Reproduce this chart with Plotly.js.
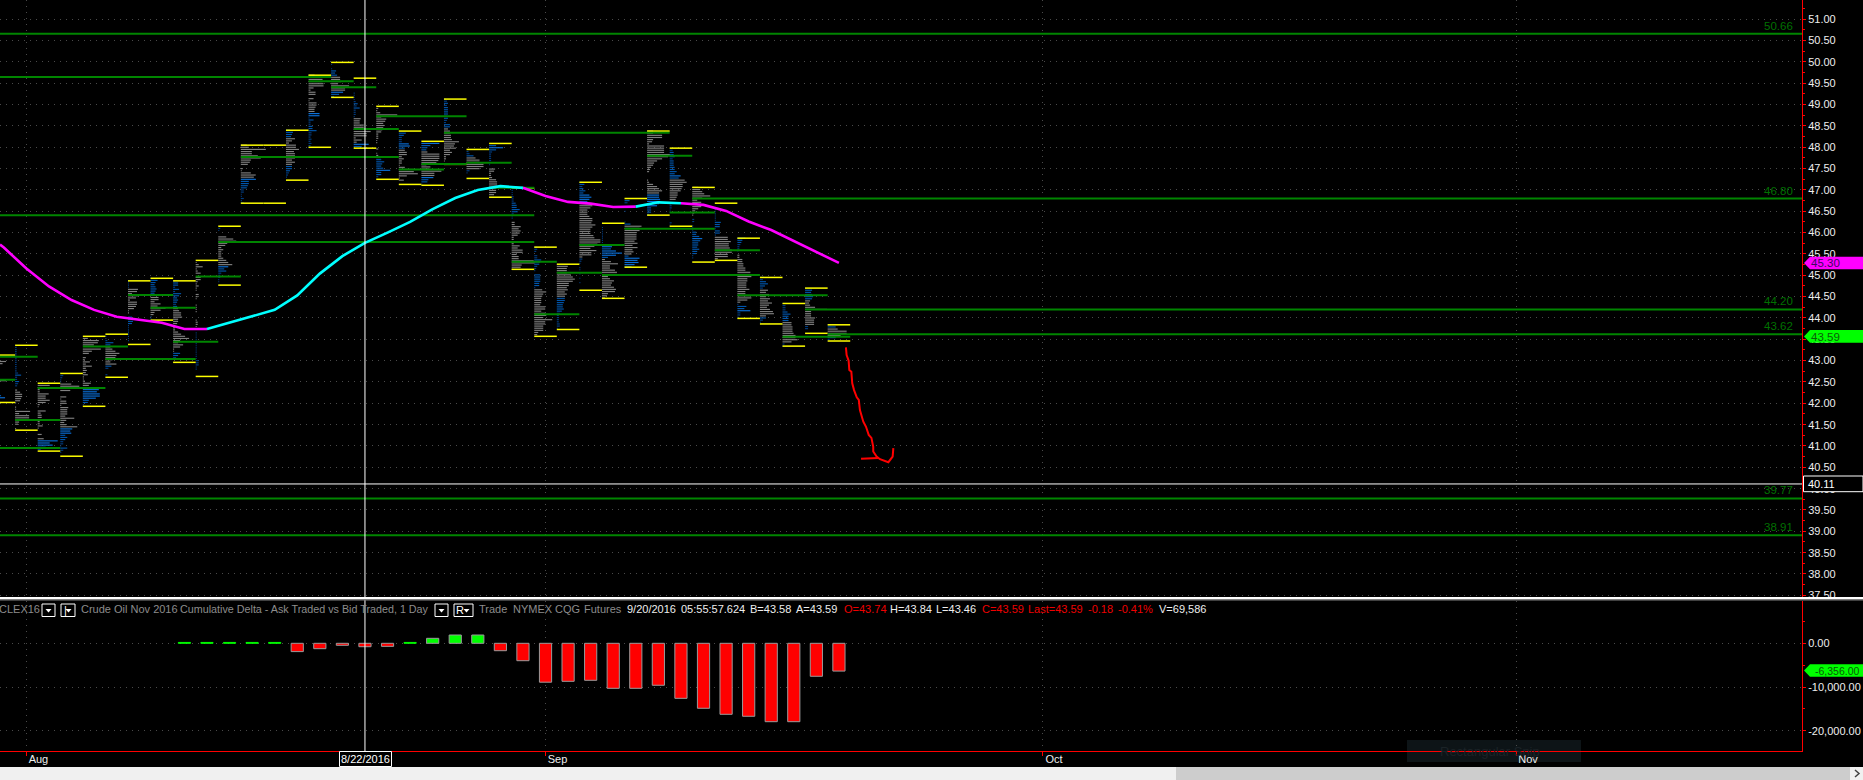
<!DOCTYPE html>
<html>
<head>
<meta charset="utf-8">
<script src="https://cdn.plot.ly/plotly-3.0.1.min.js"></script>
<style>html,body{margin:0;padding:0;background:#000;overflow:hidden}#chart{width:1863px;height:780px}</style>
</head>
<body>
<div id="chart"></div>
<script>
// ---- price bars: index -1 ... 36 (Aug 1 2016 = 0, Sep 1 = 23, Sep 20 = 36) ----
const barIndex = [-1,0,1,2,3,4,5,6,7,8,9,10,11,12,13,14,15,16,17,18,19,20,21,22,23,24,25,26,27,28,29,30,31,32,33,34,35,36];
const highs = [43.13,43.36,42.47,42.70,43.57,43.62,44.87,44.93,44.87,45.35,46.15,48.05,48.05,48.40,49.69,49.99,49.62,48.96,48.38,48.14,49.13,47.95,48.09,47.04,45.66,45.26,47.18,46.22,46.80,48.38,47.98,47.06,46.69,45.87,44.95,44.34,44.70,43.84];
const lows  = [42.02,41.37,40.88,40.76,41.93,42.61,43.38,43.95,42.96,42.63,44.77,46.69,46.69,47.23,48.00,49.17,47.98,47.25,47.13,47.11,47.60,47.27,46.83,45.14,43.57,43.73,44.65,44.46,45.19,46.41,46.15,45.31,45.35,43.99,43.86,43.34,43.64,43.46];
// volume-at-price rows, top to bottom, one row per 0.05; negative = blue rows
const profileRows = [
 [5,5,5,13.5,10,5,4,3,3,3,3,3,13.5,3,3,3,3,3,3,-8.5,-12.5,-2,0],
 [0,-1.5,-1.5,-1.5,-1.5,-1.5,-1.5,-1.5,-1.5,-1.5,-1.5,-1.5,-1.5,-3,-6,-2,-2,-4,-3,-2,0,2,5,7,7,6,5,1,0,1,1,15,4,14,14,13,4,3,0,1],
 [0,12,4,2,2,11,8,8,12,8,2,1,0,8,3,4,4,4,2,2,5,1,0,0,4,0,6,-20,-12,-15,-8,-3,0],
 [-1,-3,-2,-1,-1,11,19,16,10,0,0,6,1,6,6,1,8,7,7,7,5,14,6,4,6,17,-12,-10,-11,-5,-7,-5,-3,-3,-1,-7,-3,-1,0],
 [0,5,16,15,11,0,18,9,6,0,3,2,7,3,9,3,4,3,5,1,1,2,8,6,4,-16,-14,-17,-17,-13,-6,-5,-1],
 [0,-1,-1,-2,-8,-5,5,7,10,14,11,10,7,5,11,-6,-3,0,0,-2,0],
 [-1,-1,-1,-1,10,9,4,11,8,2,9,9,8,6,1,1,0,-4,-5,-5,-4,-1,-1,-1,-1,-1,-1,-1,-1,0],
 [-1,-7,-5,-4,-5,-6,-5,-4,12,8,8,4,10,7,15,10,4,3,-1,-1],
 [-2,-5,-5,-2,-6,-2,-8,-6,-4,-5,-4,-3,-4,5,6,8,8,9,5,5,4,1,2,2,5,8,12,16,7,5,10,7,1,1,-7,-5,-3,0],
 [0,1,3,7,1,2,5,0,5,5,2,1,3,1,1,0,3,2,1,0,0,1,1,1,1,0,0,0,1,2,2,1,0,0,-1,-1,-1,-1,-1,-1,-1,-1,-1,-1,-1,-1,-1,-3,-3,-3,-1,-1,0,0,0],
 [0,-2,-1,0,0,8,15,18,9,7,3,5,3,3,3,5,8,10,14,-10,-6,-8,-3,-2,-2,-1,-1,0],
 [6,8,25,11,11,17,20,10,9,7,0,2,1,10,15,13,-15,-8,-8,-7,-6,-3,-3,-1,-1,-3,-1,-3],
 [],
 [-4,-7,-6,-5,9,6,3,10,10,13,8,9,9,9,6,9,6,-6,-6,-4,-3,-2,-1,0],
 [6,6,14,14,15,15,5,2,7,7,0,5,1,8,8,7,6,6,-11,-11,-1,-5,-2,-2,-4,-4,-8,-3,-3,-2,-3,-2,-3,-2,-1],
 [0,-1,0,-1,-5,-4,-6,9,9,10,7,18,14,14,-12,-8,-3],
 [0,0,0,0,0,0,0,-1,-1,-1,-1,-2,-4,-3,-6,-2,-2,-2,-1,7,6,6,10,10,20,17,13,13,2,8,3,-15,-8],
 [0,2,1,4,21,5,10,9,7,8,7,6,5,2,2,2,1,1,0,0,2,0,1,2,5,-5,-8,-6,-5,-7,-14,-5,-5,-2,0],
 [0,-7,-5,-3,-3,-3,-10,-11,-6,6,8,8,3,5,3,3,1,6,15,15,19,8,1,5,0,0],
 [0,-18,-9,-6,-5,6,18,18,18,17,15,5,9,8,20,13,13,-12,-7,-6,-1],
 [-2,-3,-4,-3,-4,-4,-4,-4,-3,-4,-3,-2,-6,-6,4,6,6,7,7,8,15,11,10,12,6,8,6,2,2,1,0],
 [0,-2,-3,-7,9,13,13,17,17,13,-3,-1,0,0],
 [0,-7,-14,-7,-3,-2,-2,-2,-2,-1,-1,0,6,5,2,2,3,7,8,8,8,7,7,7,5,0],
 [0,-1,-1,-1,-2,-2,-2,-4,-5,-5,-8,-6,-2,-1,-1,0,3,3,9,7,9,8,6,2,2,5,2,8,6,11,11,5,7,7,22,23,10,9,1],
 [-3,-3,-2,0,-3,-3,-7,-6,-5,-3,-2,-1,0,-6,-6,-6,-6,-5,-5,-1,8,12,9,8,7,7,7,6,11,11,7,11,12,9,18,11,11,9,9,9,4,3],
 [-1,11,10,10,10,14,16,18,16,12,12,10,11,8,10,8,-8,-8,-7,-6,-6,-7,-5,-3,-2,-2,-2,-2,-3,-3,-1],
 [-3,-5,-3,-4,-6,-4,-10,-12,-10,-8,13,13,11,8,8,8,10,13,13,12,16,13,11,11,11,14,15,21,21,18,15,11,17,12,12,3,-3,-2,-1,0,-1,-1,0,-1,0,-1,0,-1,0,0,0],
 [-1,0,-1,-1,-1,-1,-1,-1,-1,-1,-5,-10,-9,-14,-20,-14,-6,3,9,16,8,8,13,15,15,6,8,12,10,9,12,14,13,6,5,3],
 [0,-5,-3,0,-1,0,-1,0,0,0,0,-1,-6,17,15,15,12,12,12,12,10,13,8,13,8,9,7,-4,-15,-13,-14,-10,-7],
 [6,6,15,15,6,5,2,17,17,17,17,23,21,15,10,7,6,4,3,2,0,0,0,1,2,6,10,12,15,12,-12,-12,-13,-13,-12,-10,-4,-4,-4,-2],
 [0,-3,-4,-4,-5,-3,-4,-4,-4,-5,-5,-7,-5,-11,-9,15,17,13,13,12,11,8,8,7,6,0,1,-2,-2,-1,-1,0,0,0,0,-2,-1],
 [6,8,10,12,18,10,5,9,6,9,6,3,2,1,0,-2,-2,0,-1,-1,-1,-4,-4,-7,-10,-8,-6,-6,-5,-7,-5,-4,-1,-1,0,0],
 [0,0,0,-1,-1,-1,-1,-1,-1,-6,-5,-5,-1,-5,-5,-1,13,13,16,14,14,15,17,17,13,13,3],
 [-8,-5,-4,-3,-2,-2,-1,0,2,2,5,5,6,6,8,8,13,13,14,10,10,9,9,9,12,8,8,13,14,10,3,-1,-9,-7,-13,-3,-3,-1],
 [-4,-3,-6,-8,-5,-3,8,6,9,6,10,8,12,9,7,10,13,14,6,-6,-3,-1],
 [-1,-3,-3,-3,-5,-8,-6,-6,-6,9,9,10,10,10,11,13,13,15,9,-2,-1],
 [-1,-7,-6,-7,-8,-7,5,4,5,10,22,6,6,6,10,9,9,9,-3,-3,0],
 [-3,-8,10,19,19,13,-8,-2]
];
// ---- point-of-control levels (price, first bar, last bar; bar 79 = runs to the price scale) ----
const levelPrice = [50.66,46.80,44.20,43.62,39.77,38.91,49.65,49.55,49.41,48.73,48.43,47.48,47.77,48.34,47.61,47.64,47.05,46.41,45.78,45.32,45.06,45.01,44.09,45.71,46.09,47.80,46.47,45.59,44.53,43.56,44.97,44.54,44.24,43.44,43.33,43.04,42.36,43.09,42.55,41.61,40.95];
const levelFrom  = [-2,30,35,36,-2,-2,-2,13,14,16,15,17,10,19,18,20,21,-2,9,22,24,26,23,25,27,28,29,31,32,34,8,5,6,7,3,4,1,-2,-2,0,-2];
const levelTo    = [79,79,79,79,79,79,13,14,15,19,16,18,16,28,19,21,22,22,22,23,25,32,24,26,30,29,30,32,35,36,9,6,7,8,4,7,3,0,-1,1,1];
const levelLabels = ['50.66','46.80','44.20','43.62','39.77','38.91'];
// ---- moving average, read at each bar ----
const maBars = [-1.17,-1,0,1,2,3,4,5,6,7,8,9,10,11,12,13,14,15,16,17,18,19,20,21,22,23,24,25,26,27,28,29,30,31,32,33,34,35,36];
const maValues = [45.72,45.65,45.16,44.74,44.42,44.19,44.03,43.96,43.89,43.74,43.74,43.89,44.03,44.19,44.53,45.04,45.45,45.76,46.00,46.25,46.55,46.81,47.00,47.09,47.05,46.86,46.72,46.68,46.60,46.61,46.71,46.69,46.65,46.51,46.26,46.06,45.80,45.55,45.29];
// rising stretches (cyan); everything else is magenta
const maRisingRanges = [[8,22],[27,29]];
// ---- hand-drawn red projection ----
const sketchBars = [36.31,36.34,36.43,36.46,36.55,36.59,36.67,36.79,36.88,36.93,37.08,37.20,37.32,37.44,37.52,37.52,37.67,37.82,38.19,38.38,38.41];
const sketchPrices = [43.31,43.13,43.00,42.78,42.74,42.47,42.31,42.14,42.08,41.84,41.57,41.45,41.26,41.19,40.98,40.87,40.75,40.69,40.62,40.75,40.95];
const sketchTailBars = [36.98,37.74];
const sketchTailPrices = [40.70,40.72];
// ---- cumulative delta panel ----
const deltaBars = [7,8,9,10,11,12,13,14,15,16,17,18,19,20,21,22,23,24,25,26,27,28,29,30,31,32,33,34,35,36];
const deltaValues = [200,200,200,200,200,-1900,-1230,-460,-780,-700,200,1140,1900,1900,-1690,-3980,-8900,-8700,-8470,-10300,-10300,-9600,-12590,-14870,-16250,-16700,-17940,-17940,-7550,-6356];
// ---- axis labels ----
const monthBars = [0,23,45,66];
const monthLabels = ['Aug','Sep','Oct','Nov'];
const deltaTicks = [0,-10000,-20000];
const deltaTickLabels = ['0.00','-10,000.00','-20,000.00'];

const FONT = '"Liberation Sans", Arial, sans-serif';
const PX_PER_BAR = 22.57, AXIS_PX = 1802, PANE_BOTTOM = 751;
const X = px => px / AXIS_PX;
const Y = py => (PANE_BOTTOM - py) / PANE_BOTTOM;

// build profile segments
const seg = {grey:{x:[],y:[]}, blueDark:{x:[],y:[]}, blueMid:{x:[],y:[]}, blueBright:{x:[],y:[]}};
barIndex.forEach((b, i) => {
  profileRows[i].forEach((v, k) => {
    if (!v) return;
    const w = Math.abs(v);
    const t = v > 0 ? seg.grey : (w < 4 ? seg.blueDark : (w < 10 ? seg.blueMid : seg.blueBright));
    const p = highs[i] - k * 0.05;
    t.x.push(b - 0.5, b - 0.5 + w / PX_PER_BAR, null);
    t.y.push(p, p, null);
  });
});
const rowTrace = (s, c) => ({type:'scatter', mode:'lines', x:s.x, y:s.y, line:{color:c, width:1.15}, connectgaps:false, hoverinfo:'skip'});

const yellow = {x:[], y:[]};
barIndex.forEach((b, i) => {
  yellow.x.push(b-0.5, b+0.5, null, b-0.5, b+0.5, null);
  yellow.y.push(highs[i], highs[i], null, lows[i], lows[i], null);
});
const green = {x:[], y:[]};
levelPrice.forEach((p, i) => {
  green.x.push(levelFrom[i]-0.5, levelTo[i]+0.5, null);
  green.y.push(p, p, null);
});
const maRising = x => maRisingRanges.some(r => x >= r[0] && x <= r[1]);
const maUp = maValues.map((v, i) => maRising(maBars[i]) ? v : null);
const maDown = maValues.map((v, i) => {
  const x = maBars[i];
  const edge = maRisingRanges.some(r => x === r[0] || x === r[1]);
  return (!maRising(x) || edge) ? v : null;
});

const deltaColors = deltaValues.map(v => v > 0 ? '#00ff00' : '#ff0000');
const deltaEdges = deltaValues.map(v => Math.abs(v) <= 200 ? '#00ff00' : '#9a9a9a');

const traces = [
  rowTrace(seg.grey, '#808080'),
  rowTrace(seg.blueDark, '#003c80'),
  rowTrace(seg.blueMid, '#0055ab'),
  rowTrace(seg.blueBright, '#0a6fd8'),
  {type:'scatter', mode:'lines', x:yellow.x, y:yellow.y, line:{color:'#ffff00', width:1.5}, hoverinfo:'skip'},
  {type:'scatter', mode:'lines', x:green.x, y:green.y, line:{color:'#008500', width:2}, hoverinfo:'skip'},
  {type:'scatter', mode:'lines', x:maBars, y:maDown, line:{color:'#ff00ff', width:2.6}, hoverinfo:'skip'},
  {type:'scatter', mode:'lines', x:maBars, y:maUp, line:{color:'#00ffff', width:2.6}, hoverinfo:'skip'},
  {type:'scatter', mode:'lines', x:sketchBars, y:sketchPrices, line:{color:'#ff0000', width:2}, hoverinfo:'skip'},
  {type:'scatter', mode:'lines', x:sketchTailBars, y:sketchTailPrices, line:{color:'#ff0000', width:2}, hoverinfo:'skip'},
  {type:'bar', x:deltaBars, y:deltaValues, yaxis:'y2', width:0.54,
   marker:{color:deltaColors, line:{color:deltaEdges, width:1}}, hoverinfo:'skip'}
];

const shapes = [];
const rectPx = (x0,y0,x1,y1,fill,line,layer) => shapes.push({type:'rect', xref:'paper', yref:'paper', x0:X(x0), x1:X(x1), y0:Y(y0), y1:Y(y1),
  fillcolor:fill, line:line?{color:line,width:1}:{width:0}, layer:layer||'above'});
const pathPx = (pts,fill) => shapes.push({type:'path', xref:'paper', yref:'paper', layer:'above', fillcolor:fill, line:{width:0},
  path:'M '+pts.map(p=>X(p[0])+' '+Y(p[1])).join(' L ')+' Z'});

// snip ghost below lines
rectPx(1407,740,1581,762,'#0d1417',null,'below');
// crosshair
shapes.push({type:'line', xref:'x', yref:'paper', x0:15, x1:15, y0:0, y1:1, line:{color:'#ffffff', width:1}, layer:'above'});
shapes.push({type:'line', xref:'x', yref:'y', x0:-2, x1:79, y0:40.11, y1:40.11, line:{color:'#ffffff', width:1}, layer:'above'});
// cover clipped 37.50 label below pane top
rectPx(1803,597,1863,604,'#000000');
// pane separator
rectPx(0,597,1863,599,'#ffffff');
rectPx(0,599,1863,600.6,'#808080');
// axis value flags
rectPx(1803.5,476,1863,491.7,'#000000','#ffffff');
pathPx([[1804,263],[1810,256.7],[1863,256.7],[1863,269.3],[1810,269.3]],'#ff00ff');
pathPx([[1804,336.4],[1810,330],[1863,330],[1863,342.7],[1810,342.7]],'#00ff00');
pathPx([[1804,670.5],[1810,664.3],[1863,664.3],[1863,676.7],[1810,676.7]],'#00ff00');
// 8/22/2016 box
rectPx(339.5,751.5,391.5,766.5,'#000000','#ffffff');
// scroll bar
rectPx(0,767,1176,780,'#f0f0f0');
rectPx(1176,767,1850,780,'#cdcdcd');
rectPx(1850,767,1863,780,'#f0f0f0');
shapes.push({type:'path', xref:'paper', yref:'paper', layer:'above', line:{color:'#444444', width:1.5},
  path:`M ${X(1855)} ${Y(770)} L ${X(1859)} ${Y(773.5)} L ${X(1855)} ${Y(777)}`});
// header drop-down boxes
[[42,55],[61,75],[435,448],[454,473]].forEach(b => {
  shapes.push({type:'rect', xref:'paper', yref:'paper', x0:X(b[0]), x1:X(b[1]), y0:Y(604), y1:Y(616.5), fillcolor:'#000', line:{color:'#ffffff',width:1}, layer:'above'});
  pathPx([[b[1]-9.5,609],[b[1]-3.5,609],[b[1]-6.5,612.5]],'#ffffff');
});

const anns = [];
const txt = (text, px, py, color, size, anchor) => anns.push({text, xref:'paper', yref:'paper', x:X(px), y:Y(py), showarrow:false,
  xanchor:anchor||'left', yanchor:'middle', borderpad:0, borderwidth:0, font:{family:FONT, size:size||11, color:color}, captureevents:false});
const GREY = '#8c8c8c', WHITE = '#eeeeee', RED = '#ee0000';
[['CLEX16',-1,GREY],['Crude Oil Nov 2016',81,GREY],['Cumulative Delta - Ask Traded vs Bid Traded, 1 Day',180,GREY,10.75],['Trade',479,GREY],['NYMEX',513,GREY],['CQG',555,GREY],['Futures',584,GREY],
 ['9/20/2016',627,WHITE],['05:55:57.624',681,WHITE],['B=43.58',750,WHITE],['A=43.59',796,WHITE],['O=43.74',844,RED],['H=43.84',890,WHITE],['L=43.46',936,WHITE],
 ['C=43.59',982,RED],['Last=43.59',1028,RED],['-0.18',1088,RED],['-0.41%',1118,RED],['V=69,586',1159,WHITE]
].forEach(t => txt(t[0], t[1], 609, t[2], t[3]));
txt('|', 64, 609.5, '#ffffff');
txt('R', 456, 609.5, '#ffffff');
txt('8/22/2016', 365.5, 759, '#ffffff', 11, 'center');
txt('40.11', 1808, 484.2, '#ffffff');
txt('45.30', 1811, 263.2, '#3a0a60', 11.5);
txt('43.59', 1811, 336.6, '#0a5a0a', 11.5);
txt('-6,356.00', 1815, 670.6, '#0a5a0a', 10.5);
txt('Rectangular Snip', 1440, 751, '#1b2327', 13);
levelLabels.forEach((l, i) => anns.push({text:l, xref:'paper', yref:'y', x:X(1793), y:levelPrice[i], xanchor:'right', yanchor:'bottom', yshift:2,
  showarrow:false, borderpad:0, borderwidth:0, font:{family:FONT, size:11.5, color:'#007000'}}));

const gridDash = '1px,5px';
const layout = {
  width:1863, height:780, margin:{l:0, r:61, t:0, b:29, pad:0},
  paper_bgcolor:'#000000', plot_bgcolor:'#000000', showlegend:false, hovermode:false, dragmode:false,
  font:{family:FONT, size:11, color:WHITE},
  xaxis:{anchor:'y2', domain:[0,1], range:[-1.17,78.67], tickmode:'array', tickvals:monthBars, ticktext:monthLabels,
    ticks:'outside', ticklen:4, tickcolor:'#ff0000', tickwidth:1, ticklabelshift:12, ticklabelstandoff:-6,
    showgrid:true, gridcolor:'#4a4a4a', griddash:gridDash, gridwidth:1, zeroline:false,
    showline:true, linecolor:'#ff0000', linewidth:1, tickfont:{family:FONT, size:11, color:WHITE}},
  yaxis:{domain:[(PANE_BOTTOM-597.5)/PANE_BOTTOM,1], range:[37.449,51.452], side:'right', anchor:'x', dtick:0.5, tick0:0, tickformat:'.2f',
    ticks:'outside', ticklen:3, tickcolor:'#ff0000', tickwidth:1,
    minor:{dtick:0.25, tick0:0, ticks:'outside', ticklen:2, tickcolor:'#ff0000', showgrid:false},
    showgrid:true, gridcolor:'#4a4a4a', griddash:gridDash, gridwidth:1, zeroline:false,
    showline:true, linecolor:'#ff0000', linewidth:1, tickfont:{family:FONT, size:11, color:WHITE}},
  yaxis2:{domain:[0,(PANE_BOTTOM-600.5)/PANE_BOTTOM], range:[-24645,9794], side:'right', anchor:'x', tickmode:'array', tickvals:deltaTicks, ticktext:deltaTickLabels,
    ticks:'outside', ticklen:3, tickcolor:'#ff0000', tickwidth:1,
    minor:{dtick:5000, tick0:0, ticks:'outside', ticklen:2, tickcolor:'#ff0000', showgrid:false},
    showgrid:true, gridcolor:'#4a4a4a', griddash:gridDash, gridwidth:1, zeroline:false,
    showline:true, linecolor:'#ff0000', linewidth:1, tickfont:{family:FONT, size:11, color:WHITE}},
  shapes, annotations:anns
};
Plotly.newPlot('chart', traces, layout, {staticPlot:true, displayModeBar:false, responsive:false});
</script>
</body>
</html>
